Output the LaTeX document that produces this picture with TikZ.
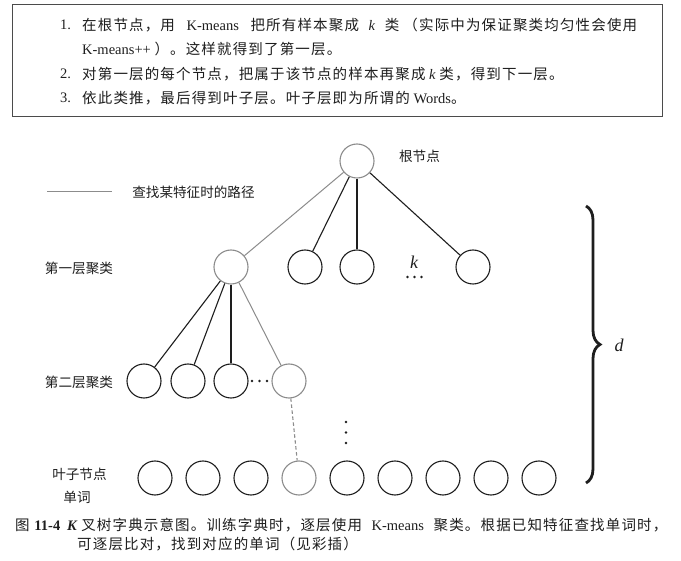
\documentclass[tikz,border=0pt]{standalone}
\usepackage{fontspec}
\setmainfont{Liberation Serif}
\newfontfamily\cjk{Noto Sans CJK SC}
\newfontfamily\cjkls[LetterSpace=8]{Noto Sans CJK SC}
\newcommand{\lt}[1]{{\rmfamily #1}}
\usetikzlibrary{decorations.pathreplacing}
\definecolor{pathgray}{RGB}{140,140,140}
\definecolor{ink}{RGB}{30,30,30}
\tikzset{
  cnode/.style={circle, draw=ink, line width=1.1pt, minimum size=34pt, inner sep=0pt},
  gnode/.style={cnode, draw=pathgray},
  blk/.style={line width=1.1pt, draw=ink},
  gline/.style={line width=1pt, draw=pathgray},
  lbl/.style={font=\cjk\fontsize{13.6}{16}\selectfont, inner sep=0pt, text=ink},
  boxtxt/.style={font=\cjkls\fontsize{14.5}{18}\selectfont, inner sep=0pt, anchor=west, text=ink},
  dotm/.style={circle, fill=ink, inner sep=0pt, minimum size=2.8pt},
  mathlbl/.style={font=\rmfamily\itshape\fontsize{18}{20}\selectfont, inner sep=0pt, text=ink}
}
\begin{document}
\begin{tikzpicture}[x=1pt,y=-1pt]
\useasboundingbox[fill=white] (0,0) rectangle (681,561);

% text box
\node (box) [draw=ink!80, line width=0.8pt, inner sep=0pt, minimum width=650pt, minimum height=112pt] at (337,60) {};
\node[boxtxt] (n1) at (60,25) {\lt{1.}};
\node[boxtxt] (t1) at (82,25) {在根节点，用\lt{\hspace{8pt} K-means \hspace{8pt}}把所有样本聚成\lt{\hspace{6pt} \textit{k} \hspace{6pt}}类\hspace{4pt}（实际中为保证聚类均匀性会使用};
\node[boxtxt] (t1b) at (82,49) {\lt{K-means++ }）。这样就得到了第一层。};
\node[boxtxt] (n2) at (60,74) {\lt{2.}};
\node[boxtxt] (t2) at (82,74) {对第一层的每个节点，把属于该节点的样本再聚成\lt{ \textit{k} }类，得到下一层。};
\node[boxtxt] (n3) at (60,98) {\lt{3.}};
\node[boxtxt] (t3) at (82,98) {依此类推，最后得到叶子层。叶子层即为所谓的\lt{ Words}。};

% legend
\coordinate (lg1) at (47,192);
\coordinate (lg2) at (112,192);
\draw[gline] (lg1) -- (lg2);
\node[lbl] (lgt) at (193.5,192) {查找某特征时的路径};

% tree nodes
\node[gnode] (root) at (357,161) {};
\node[lbl] (rootl) at (419.5,156) {根节点};

\node[gnode] (a1) at (231,267) {};
\node[cnode] (a2) at (305,267) {};
\node[cnode] (a3) at (357,267) {};
\node[cnode] (a4) at (473,267) {};
\node[mathlbl] (kl) at (414,262) {k};
\node[dotm] (ka) at (407.5,277) {};
\node[dotm] (kb) at (414.5,277) {};
\node[dotm] (kc) at (421.5,277) {};
\node[lbl] (l1) at (79,268) {第一层聚类};

\node[cnode] (b1) at (144,381) {};
\node[cnode] (b2) at (188,381) {};
\node[cnode] (b3) at (231,381) {};
\node[gnode] (b4) at (289,381) {};
\node[dotm] (ba) at (252,381) {};
\node[dotm] (bb) at (259.5,381) {};
\node[dotm] (bc) at (267,381) {};
\node[lbl] (l2) at (79,382) {第二层聚类};

\node[dotm] (va) at (346,422) {};
\node[dotm] (vb) at (346,432.5) {};
\node[dotm] (vc) at (346,443) {};

\foreach \i/\x in {1/155,2/203,3/251,5/347,6/395,7/443,8/491,9/539}
  \node[cnode] (c\i) at (\x,478) {};
\node[gnode] (c4) at (299,478) {};
\node[lbl] (l3a) at (79.5,474) {叶子节点};
\node[lbl] (l3b) at (77,497) {单词};

% edges
\draw[gline] (root) -- (a1);
\draw[blk] (root) -- (a2);
\draw[blk] (root) -- (a3);
\draw[blk] (root) -- (a4);
\draw[blk] (a1) -- (b1);
\draw[blk] (a1) -- (b2);
\draw[blk] (a1) -- (b3);
\draw[gline] (a1) -- (b4);
\draw[gline, line width=1.1pt, dash pattern=on 3.5pt off 2.5pt] (b4) -- (c4);

% brace
\coordinate (bt) at (586,206);
\coordinate (bbm) at (586,483);
\draw[ink, line width=2.8pt, decorate, decoration={brace, amplitude=14pt}] (bt) -- (bbm);
\node[mathlbl] (dl) at (619,345) {d};

% caption
\node[boxtxt] (c0) at (15,525) {图\lt{ \textbf{11-4}}};
\node[boxtxt] (cap1) at (67,525) {\lt{\textbf{\textit{K}} }叉树字典示意图。训练字典时，逐层使用\lt{\hspace{6pt} K-means \hspace{6pt}}聚类。根据已知特征查找单词时，};
\node[boxtxt] (cap2) at (77,544) {可逐层比对，找到对应的单词（见彩插）};
\end{tikzpicture}
\end{document}
